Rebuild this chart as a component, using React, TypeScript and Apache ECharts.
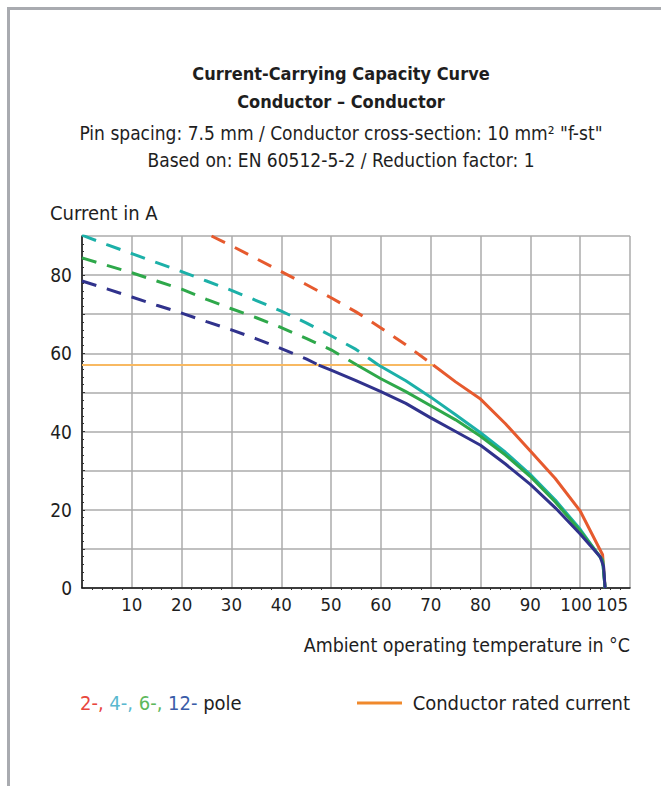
import React, { useEffect, useRef } from "react";
import * as echarts from "echarts";

const xTickLabels = [10, 20, 30, 40, 50, 60, 70, 80, 90, 100, 105];
const yTickLabels = [0, 20, 40, 60, 80];

const ratedCurrent = [[0, 57], [70.5, 57]];

const pole2Dashed = [[26, 90], [30, 87.5], [35, 84.2], [40, 80.9], [45, 77.6], [50, 74.2], [55, 70.6], [60, 66.5], [65, 62.2], [70.5, 57]];
const pole2Solid = [[70.5, 57], [75, 52.7], [80, 48.3], [85, 42], [90, 35], [95, 28], [100, 19.7], [104.5, 8.5], [105, 0]];

const pole4Dashed = [[0, 90.2], [5, 87.8], [10, 85.5], [15, 83.2], [20, 80.9], [25, 78.5], [30, 76.1], [35, 73.5], [40, 70.8], [45, 67.8], [50, 64.5], [55, 61], [59.5, 57]];
const pole4Solid = [[59.5, 57], [65, 53], [70, 48.8], [75, 44.3], [80, 39.7], [85, 34.7], [90, 29], [95, 22.5], [100, 15], [104.5, 7], [105, 0]];

const pole6Dashed = [[0, 84.4], [5, 82.5], [10, 80.6], [15, 78.5], [20, 76.4], [25, 73.8], [30, 71.4], [35, 69.1], [40, 66.6], [45, 63.8], [50, 60.9], [55.2, 57]];
const pole6Solid = [[55.2, 57], [60, 53.5], [65, 50.2], [70, 46.6], [75, 43], [80, 38.8], [85, 34], [90, 28.5], [95, 22], [100, 14.6], [104.5, 7.2], [105, 0]];

const pole12Dashed = [[0, 78.5], [5, 76.5], [10, 74.4], [15, 72.3], [20, 70.3], [25, 68.1], [30, 66], [35, 63.7], [40, 61.2], [45, 58.6], [47.5, 57]];
const pole12Solid = [[47.5, 57], [50, 55.7], [55, 53], [60, 50.2], [65, 47.2], [70, 43.5], [75, 40], [80, 36.5], [85, 31.7], [90, 26.5], [95, 20.5], [100, 13.8], [104, 8], [104.7, 5.5], [105, 0]];

const FONT = "'DejaVu Sans Condensed', 'Liberation Sans Narrow', 'Roboto', sans-serif";
const TEXT = "#1e1e1e";

const RED = "#e65a2e";
const TEAL = "#1cb0a8";
const GREEN = "#2ea84a";
const BLUE = "#30328c";
const RATED = "#f8b962";

export default function App() {
  const ref = useRef<HTMLDivElement>(null);

  useEffect(() => {
    document.body.style.margin = "0";
    if (!ref.current) return;
    const chart = echarts.init(ref.current, null, { renderer: "svg" });

    const dashed = (name: string, data: number[][], color: string) => ({
      name,
      type: "line",
      data,
      showSymbol: false,
      symbol: "none",
      smooth: false,
      lineStyle: { color, width: 3, type: [15, 11] },
      z: 3,
    });
    const solid = (name: string, data: number[][], color: string) => ({
      name,
      type: "line",
      data,
      showSymbol: false,
      symbol: "none",
      smooth: false,
      lineStyle: { color, width: 3, type: "solid" },
      z: 3,
    });

    const labelStyle = { color: TEXT, fontFamily: FONT, fontSize: 18.5 };

    chart.setOption({
      animation: false,
      backgroundColor: "#ffffff",
      textStyle: { fontFamily: FONT },
      title: {
        left: 341,
        top: 59,
        textAlign: "center",
        padding: 0,
        itemGap: 4,
        text: "Current-Carrying Capacity Curve\nConductor – Conductor",
        textStyle: { fontFamily: FONT, fontSize: 18, fontWeight: "bold", color: TEXT, lineHeight: 28 },
        subtext: "Pin spacing: 7.5 mm / Conductor cross-section: 10 mm² \"f-st\"\nBased on: EN 60512-5-2 / Reduction factor: 1",
        subtextStyle: { fontFamily: FONT, fontSize: 19, color: TEXT, lineHeight: 27 },
      },
      grid: { left: 82, top: 236, width: 548, height: 352, containLabel: false },
      xAxis: [
        {
          type: "value",
          min: 0,
          max: 110,
          interval: 10,
          axisLine: { show: true, onZero: false, lineStyle: { color: "#111", width: 1.5 } },
          axisTick: { show: false },
          minorTick: { show: true, splitNumber: 5, length: 2, lineStyle: { color: "#333", width: 1 } },
          axisLabel: {
            ...labelStyle,
            customValues: xTickLabels.filter((v) => v % 10 === 0),
            margin: 7,
            hideOverlap: false,
            formatter: (v: number) => (v === 100 ? `{s|${v}}` : `${v}`),
            rich: { s: { ...labelStyle, padding: [0, 8, 0, 0] } },
          },
          splitLine: { show: true, lineStyle: { color: "#ababab", width: 1.5 } },
        },
        {
          type: "value",
          position: "bottom",
          min: 0,
          max: 110,
          interval: 10,
          axisLine: { show: false, onZero: false },
          axisTick: { show: false },
          splitLine: { show: false },
          axisLabel: {
            ...labelStyle,
            customValues: xTickLabels.filter((v) => v % 10 !== 0),
            margin: 7,
            padding: [0, 0, 0, 14],
            hideOverlap: false,
          },
        },
      ],
      yAxis: {
        type: "value",
        min: 0,
        max: 90,
        interval: 10,
        axisLine: { show: true, lineStyle: { color: "#111", width: 1.5 } },
        axisTick: { show: true, inside: true, length: 3, lineStyle: { color: "#333" } },
        minorTick: { show: true, splitNumber: 5, length: 2, lineStyle: { color: "#333", width: 1 } },
        axisLabel: {
          ...labelStyle,
          fontSize: 19,
          customValues: yTickLabels,
          margin: 10,
        },
        splitLine: { show: true, lineStyle: { color: "#ababab", width: 1.5 } },
      },
      series: [
        {
          name: "Conductor rated current",
          type: "line",
          data: ratedCurrent,
          showSymbol: false,
          symbol: "none",
          lineStyle: { color: RATED, width: 2 },
          z: 2,
        },
        dashed("2-pole (extrapolated)", pole2Dashed, RED),
        solid("2-pole", pole2Solid, RED),
        dashed("4-pole (extrapolated)", pole4Dashed, TEAL),
        solid("4-pole", pole4Solid, TEAL),
        dashed("6-pole (extrapolated)", pole6Dashed, GREEN),
        solid("6-pole", pole6Solid, GREEN),
        dashed("12-pole (extrapolated)", pole12Dashed, BLUE),
        solid("12-pole", pole12Solid, BLUE),
      ],
      graphic: [
        {
          type: "text",
          style: { x: 50, y: 213, text: "Current in A", font: `20px ${FONT}`, fill: TEXT, verticalAlign: "middle" },
        },
        {
          type: "text",
          style: {
            x: 630,
            y: 645,
            text: "Ambient operating temperature in °C",
            font: `19.4px ${FONT}`,
            fill: TEXT,
            align: "right",
            verticalAlign: "middle",
          },
        },
        {
          type: "text",
          style: {
            x: 80,
            y: 703,
            text: "{r|2-,} {t|4-,} {g|6-,} {b|12-} {k|pole}",
            font: `20px ${FONT}`,
            verticalAlign: "middle",
            rich: {
              r: { fill: "#e8463c", fontFamily: FONT, fontSize: 20 },
              t: { fill: "#59b8cf", fontFamily: FONT, fontSize: 20 },
              g: { fill: "#5db85b", fontFamily: FONT, fontSize: 20 },
              b: { fill: "#3a5ca8", fontFamily: FONT, fontSize: 20 },
              k: { fill: TEXT, fontFamily: FONT, fontSize: 20 },
            },
          },
        },
        {
          type: "line",
          shape: { x1: 357, y1: 703, x2: 402, y2: 703 },
          style: { stroke: "#f0892c", lineWidth: 3 },
        },
        {
          type: "text",
          style: {
            x: 630,
            y: 703,
            text: "Conductor rated current",
            font: `20px ${FONT}`,
            fill: TEXT,
            align: "right",
            verticalAlign: "middle",
          },
        },
      ],
    });

    return () => chart.dispose();
  }, []);

  return (
    <div style={{ position: "relative", width: 661, height: 786, background: "#fff" }}>
      <div ref={ref} style={{ position: "absolute", left: 0, top: 0, width: 661, height: 786 }} />
      <div
        style={{
          position: "absolute",
          left: 7,
          top: 7,
          right: 0,
          bottom: 0,
          borderTop: "3px solid #a9abb0",
          borderLeft: "3px solid #a9abb0",
          pointerEvents: "none",
        }}
      />
    </div>
  );
}
